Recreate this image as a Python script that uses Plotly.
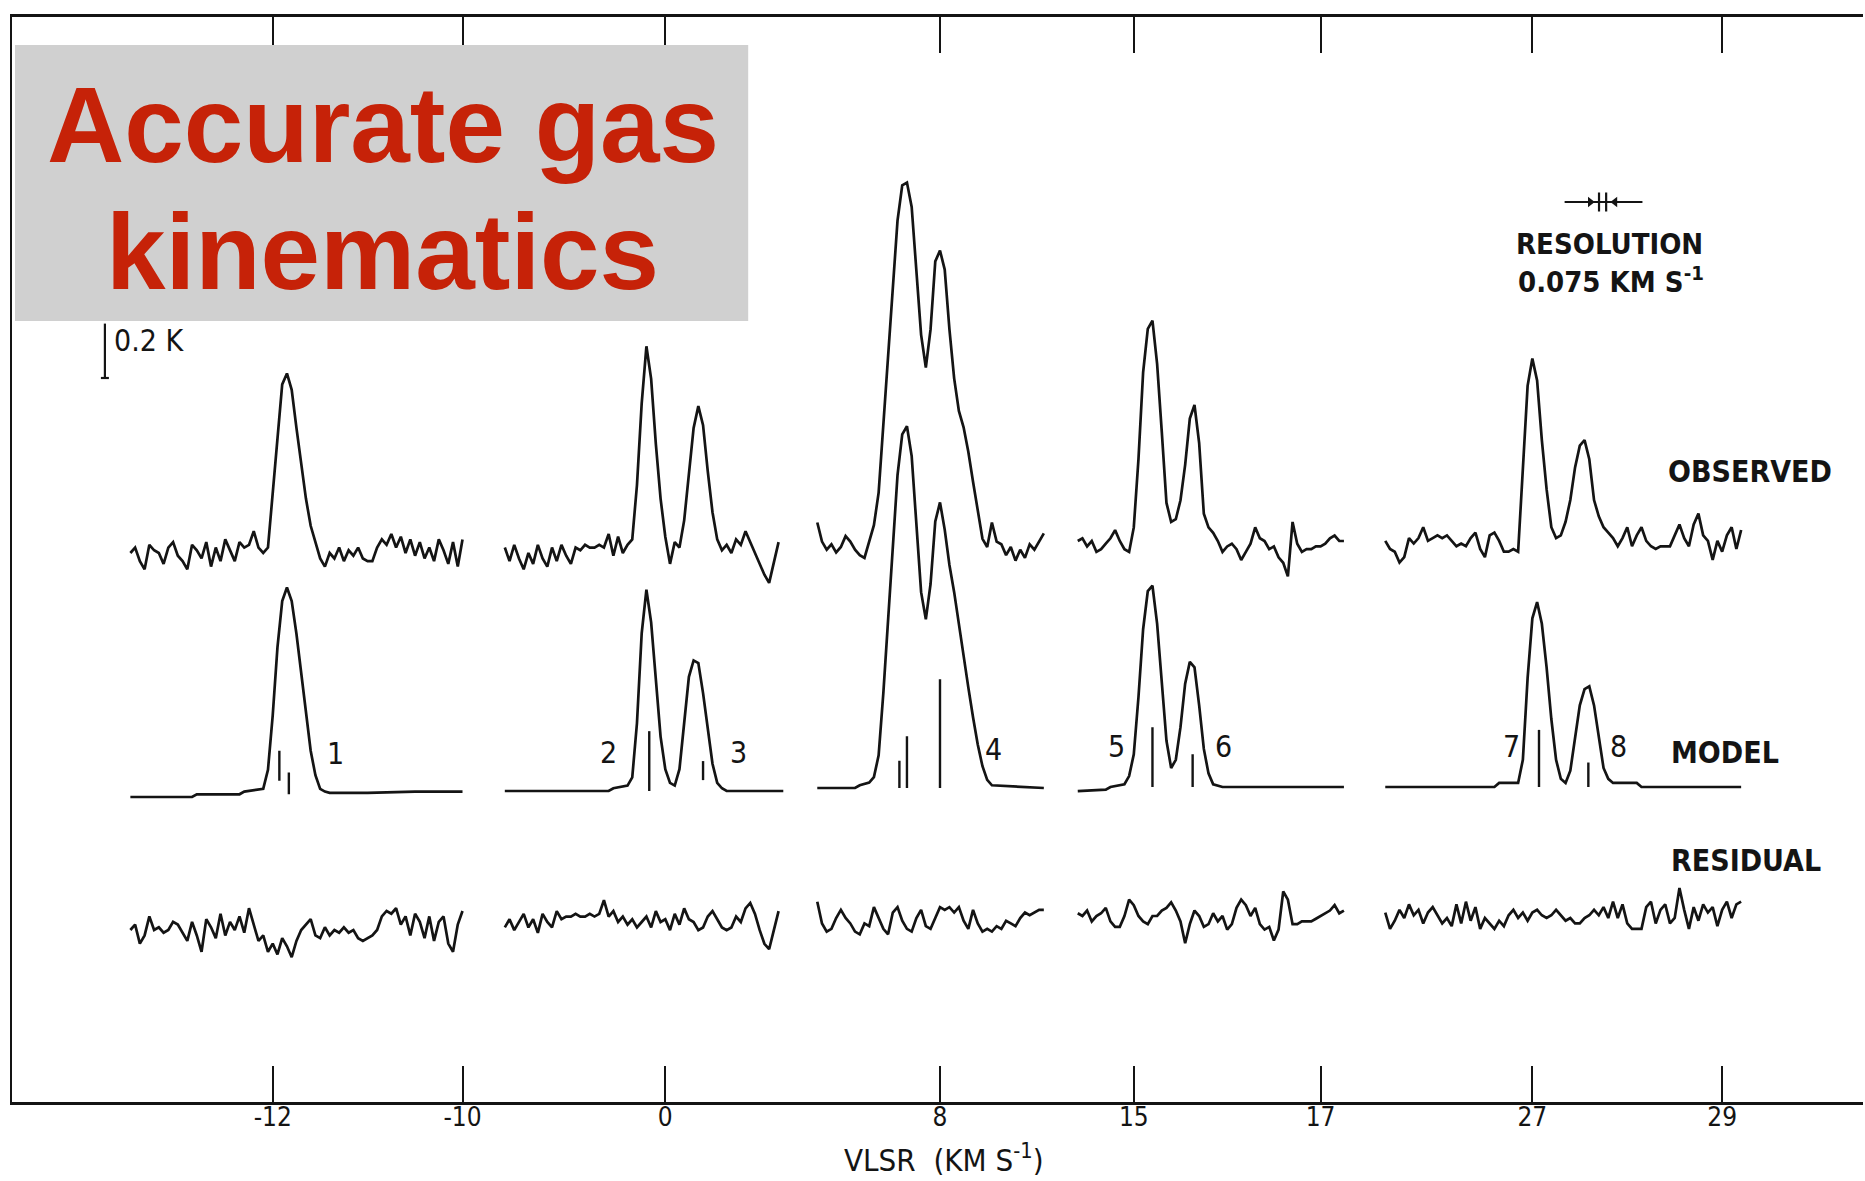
import numpy as np
import plotly.graph_objects as go

# ---------------- data (antenna temperature in K, velocity in km/s) ----------------
CHANNEL = 0.05  # km/s channel spacing of the spectra

# Panel 1 (component 1)
P1_V0 = -13.50
P1_OBS = [0.00, 0.02, -0.03, -0.06, 0.03, 0.01, 0.00, -0.04, 0.02, 0.04,
          -0.01, -0.03, -0.06, 0.03, 0.01, -0.02, 0.04, -0.05, 0.02, -0.03,
          0.05, 0.01, -0.03, 0.04, 0.02, 0.03, 0.08, 0.02, 0.00, 0.02,
          0.22, 0.45, 0.62, 0.66, 0.60, 0.46, 0.32, 0.20, 0.10, 0.04,
          -0.02, -0.05, 0.00, -0.02, 0.02, -0.03, 0.01, -0.01, 0.02, -0.02,
          -0.03, -0.03, 0.02, 0.05, 0.03, 0.07, 0.02, 0.06, 0.00, 0.05,
          -0.01, 0.04, -0.02, 0.02, -0.03, 0.05, 0.01, -0.04, 0.04, -0.05,
          0.05]
P1_RES = [0.00, 0.02, -0.05, -0.02, 0.05, 0.00, 0.01, -0.01, 0.00, 0.03,
          0.02, -0.01, -0.04, 0.03, -0.02, -0.08, 0.04, 0.01, -0.03, 0.06,
          -0.02, 0.03, 0.00, 0.05, -0.01, 0.08, 0.02, -0.04, -0.02, -0.08,
          -0.05, -0.09, -0.03, -0.06, -0.10, -0.04, 0.00, 0.02, 0.04, -0.02,
          -0.03, 0.01, -0.02, 0.00, -0.01, 0.01, -0.01, 0.00, -0.03, -0.04,
          -0.03, -0.02, 0.00, 0.05, 0.07, 0.06, 0.08, 0.02, 0.05, -0.02,
          0.06, 0.03, -0.03, 0.05, -0.04, 0.03, 0.05, -0.05, -0.08, 0.02,
          0.07]
P1_MOD_V = [-13.50, -12.85, -12.80, -12.35, -12.30, -12.10, -12.05, -12.00, -11.95, -11.90,
            -11.85, -11.80, -11.75, -11.70, -11.65, -11.60, -11.55, -11.50, -11.45, -11.40,
            -11.00, -10.50, -10.00]
P1_MOD_T = [0.00, 0.00, 0.01, 0.01, 0.02, 0.03, 0.10, 0.30, 0.55, 0.72,
            0.77, 0.72, 0.60, 0.45, 0.30, 0.17, 0.08, 0.03, 0.02, 0.015,
            0.015, 0.02, 0.02]

# Panel 2 (components 2, 3)
P2_V0 = -1.70
P2_OBS = [0.02, -0.03, 0.03, -0.02, -0.06, 0.00, -0.04, 0.03, -0.02, -0.05,
          0.02, -0.03, 0.03, -0.01, -0.04, 0.02, 0.01, 0.03, 0.02, 0.02,
          0.03, 0.02, 0.07, -0.01, 0.06, 0.00, 0.03, 0.05, 0.25, 0.55,
          0.76, 0.64, 0.40, 0.20, 0.06, -0.04, 0.04, 0.02, 0.12, 0.30,
          0.46, 0.54, 0.47, 0.30, 0.15, 0.05, 0.01, 0.03, 0.00, 0.05,
          0.03, 0.08, 0.04, 0.00, -0.04, -0.08, -0.11, -0.03, 0.04]
P2_RES = [-0.02, 0.01, -0.03, 0.00, 0.03, -0.02, 0.01, -0.04, 0.03, 0.00,
          -0.02, 0.04, 0.01, 0.02, 0.02, 0.03, 0.02, 0.02, 0.03, 0.02,
          0.03, 0.08, 0.02, 0.04, 0.00, 0.02, -0.01, 0.01, -0.02, 0.00,
          0.02, -0.02, 0.04, 0.00, 0.01, -0.03, 0.03, -0.01, 0.05, 0.01,
          0.00, -0.03, -0.02, 0.02, 0.04, 0.01, -0.02, -0.03, -0.02, 0.02,
          0.00, 0.05, 0.07, 0.03, -0.03, -0.08, -0.10, -0.03, 0.04]
P2_MOD_V = [-1.70, -0.60, -0.55, -0.40, -0.35, -0.30, -0.25, -0.20, -0.15, -0.10,
            -0.05, 0.00, 0.05, 0.10, 0.15, 0.20, 0.25, 0.30, 0.35, 0.40,
            0.45, 0.50, 0.55, 0.60, 0.65, 1.25]
P2_MOD_T = [0.00, 0.00, 0.01, 0.02, 0.05, 0.25, 0.58, 0.74, 0.62, 0.40,
            0.20, 0.08, 0.03, 0.02, 0.08, 0.25, 0.42, 0.48, 0.47, 0.36,
            0.22, 0.10, 0.03, 0.01, 0.00, 0.00]

# Panel 3 (component 4)
P3_V0 = 6.70
P3_OBS = [0.09, 0.02, -0.01, 0.01, -0.02, 0.00, 0.04, 0.02, -0.01, -0.03,
          -0.04, 0.02, 0.08, 0.20, 0.45, 0.72, 0.95, 1.20, 1.33, 1.34,
          1.25, 1.00, 0.78, 0.66, 0.80, 1.05, 1.09, 1.02, 0.80, 0.62,
          0.50, 0.44, 0.35, 0.24, 0.14, 0.03, 0.00, 0.09, 0.02, 0.01,
          -0.03, 0.00, -0.05, -0.01, -0.04, 0.01, -0.01, 0.02, 0.05]
P3_RES = [0.06, -0.02, -0.05, -0.04, 0.00, 0.03, 0.00, -0.02, -0.05, -0.06,
          -0.02, -0.03, 0.04, 0.00, -0.04, -0.06, 0.02, 0.04, -0.01, -0.04,
          -0.05, 0.00, 0.03, -0.03, -0.04, 0.00, 0.04, 0.03, 0.04, 0.02,
          0.04, -0.01, -0.04, 0.03, -0.02, -0.05, -0.04, -0.05, -0.03, -0.04,
          -0.01, -0.02, -0.03, 0.00, 0.02, 0.01, 0.02, 0.03, 0.03]
P3_MOD_V = [6.70, 7.10, 7.15, 7.25, 7.30, 7.35, 7.40, 7.45, 7.50, 7.55,
            7.60, 7.65, 7.70, 7.75, 7.80, 7.85, 7.90, 7.95, 8.00, 8.05,
            8.10, 8.15, 8.20, 8.25, 8.30, 8.35, 8.40, 8.45, 8.50, 8.55,
            9.10]
P3_MOD_T = [0.00, 0.00, 0.01, 0.02, 0.04, 0.12, 0.35, 0.62, 0.90, 1.15,
            1.30, 1.33, 1.22, 0.98, 0.72, 0.62, 0.75, 0.98, 1.05, 0.95,
            0.82, 0.72, 0.60, 0.48, 0.37, 0.26, 0.16, 0.08, 0.03, 0.01,
            0.00]

# Panel 4 (components 5, 6)
P4_V0 = 14.40
P4_OBS = [0.00, 0.01, -0.02, 0.00, -0.04, -0.03, -0.01, 0.01, 0.04, 0.00,
          -0.03, -0.04, 0.05, 0.30, 0.62, 0.78, 0.81, 0.65, 0.40, 0.14,
          0.07, 0.08, 0.15, 0.28, 0.45, 0.50, 0.36, 0.10, 0.05, 0.03,
          0.00, -0.04, -0.02, -0.01, -0.03, -0.07, -0.04, -0.01, 0.05, 0.01,
          0.00, -0.03, -0.02, -0.06, -0.08, -0.13, 0.07, -0.01, -0.04, -0.03,
          -0.03, -0.02, -0.02, -0.01, 0.01, 0.02, 0.00, 0.00]
P4_RES = [0.01, 0.00, 0.02, -0.02, 0.00, 0.01, 0.03, -0.02, -0.04, -0.04,
          0.00, 0.06, 0.04, 0.00, -0.02, -0.03, 0.00, 0.00, 0.02, 0.03,
          0.05, 0.02, -0.02, -0.10, -0.03, 0.02, 0.00, -0.04, -0.03, 0.01,
          -0.02, 0.00, -0.05, -0.03, 0.03, 0.06, 0.04, 0.00, 0.03, -0.03,
          -0.05, -0.04, -0.09, -0.05, 0.09, 0.06, -0.03, -0.03, -0.02, -0.02,
          -0.02, -0.01, 0.00, 0.01, 0.02, 0.04, 0.01, 0.02]
P4_MOD_V = [14.40, 14.70, 14.75, 14.90, 14.95, 15.00, 15.05, 15.10, 15.15, 15.20,
            15.25, 15.30, 15.35, 15.40, 15.45, 15.50, 15.55, 15.60, 15.65, 15.70,
            15.75, 15.80, 15.85, 15.95, 17.25]
P4_MOD_T = [-0.015, -0.01, 0.00, 0.01, 0.04, 0.12, 0.33, 0.58, 0.72, 0.74,
            0.60, 0.38, 0.17, 0.07, 0.10, 0.22, 0.38, 0.46, 0.44, 0.30,
            0.14, 0.05, 0.01, 0.00, 0.00]

# Panel 5 (components 7, 8)
P5_V0 = 25.45
P5_OBS = [0.03, 0.00, -0.01, -0.05, -0.03, 0.04, 0.02, 0.04, 0.08, 0.03,
          0.04, 0.05, 0.04, 0.05, 0.03, 0.01, 0.02, 0.01, 0.04, 0.06,
          0.00, -0.03, 0.05, 0.06, 0.03, -0.01, -0.01, 0.00, -0.01, 0.30,
          0.60, 0.70, 0.62, 0.40, 0.22, 0.08, 0.04, 0.05, 0.10, 0.18,
          0.30, 0.38, 0.40, 0.33, 0.18, 0.12, 0.08, 0.06, 0.04, 0.01,
          0.04, 0.08, 0.01, 0.05, 0.08, 0.03, 0.01, 0.00, 0.01, 0.01,
          0.01, 0.05, 0.09, 0.04, 0.01, 0.09, 0.13, 0.05, 0.03, -0.04,
          0.03, -0.01, 0.05, 0.08, 0.00, 0.07]
P5_RES = [0.02, -0.04, -0.01, 0.03, 0.00, 0.05, 0.01, 0.03, -0.02, 0.02,
          0.04, 0.01, -0.02, 0.00, -0.03, 0.05, -0.02, 0.06, -0.01, 0.04,
          -0.04, 0.00, -0.02, -0.04, -0.01, -0.03, 0.01, 0.03, 0.00, 0.02,
          -0.01, 0.02, 0.03, 0.01, 0.00, 0.01, 0.03, 0.01, -0.01, 0.00,
          -0.02, -0.02, 0.00, 0.01, 0.03, 0.01, 0.04, 0.00, 0.06, 0.00,
          0.05, -0.02, -0.04, -0.04, -0.04, 0.04, 0.06, -0.02, 0.03, 0.05,
          -0.02, 0.00, 0.11, 0.03, -0.04, 0.04, -0.01, 0.05, 0.02, 0.04,
          -0.03, 0.03, 0.06, 0.00, 0.05, 0.06]
P5_MOD_V = [25.45, 26.60, 26.65, 26.85, 26.90, 26.95, 27.00, 27.05, 27.10, 27.15,
            27.20, 27.25, 27.30, 27.35, 27.40, 27.45, 27.50, 27.55, 27.60, 27.65,
            27.70, 27.75, 27.80, 27.85, 28.10, 28.15, 29.20]
P5_MOD_T = [0.00, 0.00, 0.015, 0.015, 0.10, 0.40, 0.62, 0.68, 0.60, 0.44,
            0.25, 0.10, 0.03, 0.015, 0.06, 0.18, 0.30, 0.36, 0.37, 0.30,
            0.18, 0.07, 0.03, 0.015, 0.015, 0.00, 0.00]

# hyperfine component sticks under the model (panel, velocity, bottom K, top K)
STICK_PANEL = [1, 1, 2, 2, 3, 3, 3, 4, 4, 5, 5]
STICK_V = [-11.93, -11.83, -0.17, 0.40, 7.57, 7.65, 8.00, 15.20, 15.63, 27.07, 27.59]
STICK_LO = [0.06, 0.01, 0.00, 0.04, 0.00, 0.00, 0.00, 0.00, 0.00, 0.00, 0.00]
STICK_HI = [0.17, 0.09, 0.22, 0.11, 0.10, 0.19, 0.40, 0.22, 0.12, 0.21, 0.09]

# component labels
COMP_LABEL = ["1", "2", "3", "4", "5", "6", "7", "8"]
COMP_PANEL = [1, 2, 2, 3, 4, 4, 5, 5]
COMP_V = [-11.34, -0.60, 0.78, 8.57, 14.81, 15.96, 26.78, 27.91]
COMP_T = [0.16, 0.14, 0.14, 0.14, 0.15, 0.15, 0.15, 0.15]

# velocity axis ticks per axis segment
SEG_TICKS = [[-12, -10], [0], [8], [15, 17], [27, 29]]
SEG_TICKTEXT = [["-12", "-10"], ["0"], ["8"], ["15", "17"], ["27", "29"]]

RESOLUTION = 0.075  # km/s
SCALE_BAR = 0.2     # K

# ---------------- layout geometry (pixels) ----------------
W, H = 1865, 1181
PL, PR, PT, PB = 12, 0, 17, 79
PW = W - PL - PR
PH = H - PT - PB
K_PX = 272.0          # pixels per K
OBS_BASE_PX = 553.0   # observed baseline of panel 1
Y_TOP = (OBS_BASE_PX - PT) / K_PX
Y_BOT = -(PT + PH - OBS_BASE_PX) / K_PX

# segment: (left px, right px, anchor velocity, anchor px, px per km/s)
SEGS = [(12, 480, -12, 273, 95.0),
        (480, 795, 0, 666, 94.5),
        (795, 1056, 8, 941, 94.5),
        (1056, 1362, 15, 1135, 93.5),
        (1362, 1865, 27, 1534, 95.0)]

# row baselines per panel (pixels)
OBS_Y = [553, 553, 547, 541, 549]
MOD_Y = [797, 791, 788, 787, 787]
RES_Y = [930, 922, 918, 916, 918]


def xp(px):
    return (px - PL) / PW


def yp(py):
    return (PT + PH - py) / PH


def kofs(py):
    return (OBS_BASE_PX - py) / K_PX


panels = [
    (P1_V0, P1_OBS, P1_RES, P1_MOD_V, P1_MOD_T),
    (P2_V0, P2_OBS, P2_RES, P2_MOD_V, P2_MOD_T),
    (P3_V0, P3_OBS, P3_RES, P3_MOD_V, P3_MOD_T),
    (P4_V0, P4_OBS, P4_RES, P4_MOD_V, P4_MOD_T),
    (P5_V0, P5_OBS, P5_RES, P5_MOD_V, P5_MOD_T),
]

INK = "#141414"
LW = 2.7
FONT = "DejaVu Sans Condensed, Liberation Sans Narrow, Arial"

fig = go.Figure()


def text(xpx, ypx, s, size, bold=False, xanchor="center", family=FONT, color=INK):
    fig.add_annotation(x=xp(xpx), y=yp(ypx), xref="paper", yref="paper",
                       xanchor=xanchor, yanchor="middle",
                       text=f"<b>{s}</b>" if bold else s, showarrow=False,
                       font=dict(family=family, size=size, color=color))


for i, (v0, obs, res, mv, mt) in enumerate(panels):
    xa = "x" if i == 0 else f"x{i+1}"
    v = v0 + CHANNEL * np.arange(len(obs))
    vr = v0 + CHANNEL * np.arange(len(res))
    for xs, ys, base in ((v, obs, OBS_Y[i]), (mv, mt, MOD_Y[i]), (vr, res, RES_Y[i])):
        fig.add_trace(go.Scatter(x=xs, y=np.array(ys) + kofs(base), mode="lines",
                                 line=dict(color=INK, width=LW), xaxis=xa, yaxis="y",
                                 showlegend=False, hoverinfo="skip"))
    # sticks
    sx, sy = [], []
    for p, sv, lo, hi in zip(STICK_PANEL, STICK_V, STICK_LO, STICK_HI):
        if p == i + 1:
            sx += [sv, sv, None]
            sy += [lo + kofs(MOD_Y[i]), hi + kofs(MOD_Y[i]), None]
    if sx:
        fig.add_trace(go.Scatter(x=sx, y=sy, mode="lines",
                                 line=dict(color=INK, width=2.4), xaxis=xa, yaxis="y",
                                 showlegend=False, hoverinfo="skip"))
    for lab, p, cv, ct in zip(COMP_LABEL, COMP_PANEL, COMP_V, COMP_T):
        if p == i + 1:
            fig.add_annotation(x=cv, y=ct + kofs(MOD_Y[i]), xref=xa, yref="y",
                               xanchor="center", yanchor="middle",
                               text=lab, showarrow=False,
                               font=dict(family=FONT, size=30, color=INK))

TICKFONT = dict(family=FONT, size=26, color=INK)
layout_axes = {}
for i, (l, r, av, apx, ppu) in enumerate(SEGS):
    name = "xaxis" if i == 0 else f"xaxis{i+1}"
    rng = [av - (apx - l) / ppu, av + (r - apx) / ppu]
    layout_axes[name] = dict(
        domain=[xp(l), xp(r)], range=rng, anchor="y",
        showgrid=False, zeroline=False, showline=True, linecolor=INK, linewidth=2.5,
        mirror="ticks", ticks="inside", ticklen=36, tickwidth=2.2, tickcolor=INK,
        tickvals=SEG_TICKS[i], ticktext=SEG_TICKTEXT[i], tickfont=TICKFONT,
        ticklabelstandoff=-10, fixedrange=True,
    )

fig.update_layout(
    width=W, height=H, autosize=False,
    margin=dict(l=PL, r=PR, t=PT, b=PB, pad=0),
    paper_bgcolor="white", plot_bgcolor="white",
    yaxis=dict(domain=[0, 1], range=[Y_BOT, Y_TOP], anchor="x", showgrid=False,
               zeroline=False, showline=True, linecolor=INK, linewidth=2,
               showticklabels=False, ticks="", fixedrange=True),
    **layout_axes,
)

# 0.2 K scale bar
bar_bottom = kofs(378)
fig.add_shape(type="line", xref="paper", yref="y", x0=xp(105), x1=xp(105),
              y0=bar_bottom, y1=bar_bottom + SCALE_BAR, line=dict(color=INK, width=2.2))
fig.add_shape(type="line", xref="paper", yref="y", x0=xp(101), x1=xp(109),
              y0=bar_bottom, y1=bar_bottom, line=dict(color=INK, width=2.2))
text(112, 340, "0.2 K", 30, xanchor="left")

# resolution marker (drawn in the velocity units of the last segment)
res_c = 27.74
res_y = kofs(202)
fig.add_shape(type="line", xref="x5", yref="y", x0=res_c - 0.40, x1=res_c + 0.42,
              y0=res_y, y1=res_y, line=dict(color=INK, width=2.2))
for xv in (res_c - RESOLUTION / 2, res_c + RESOLUTION / 2):
    fig.add_shape(type="line", xref="x5", yref="y", x0=xv, x1=xv,
                  y0=res_y - 0.035, y1=res_y + 0.035, line=dict(color=INK, width=2.2))
fig.add_trace(go.Scatter(x=[res_c - 0.13, res_c + 0.13], y=[res_y, res_y], mode="markers",
                         marker=dict(symbol=["triangle-right", "triangle-left"], size=9, color=INK),
                         xaxis="x5", yaxis="y", showlegend=False, hoverinfo="skip"))

text(1611, 244, "RESOLUTION", 29, bold=True)
text(1613, 280, "0.075 KM S<sup>-1</sup>", 29, bold=True)
text(1752, 472, "OBSERVED", 30, bold=True)
text(1727, 752, "MODEL", 30, bold=True)
text(1748, 860, "RESIDUAL", 30, bold=True)
text(945, 1158, "VLSR  (KM S<sup>-1</sup>)", 31)

# overlay box with headline
fig.add_shape(type="rect", xref="paper", yref="paper", x0=xp(15), x1=xp(749),
              y0=yp(321), y1=yp(45), fillcolor="#D0D0D0", line=dict(width=0), layer="above")
TITLE_FONT = "Liberation Sans, Arial, Helvetica"
text(383, 125, "Accurate gas", 107, bold=True, family=TITLE_FONT, color="#C62208")
text(383, 252, "kinematics", 107, bold=True, family=TITLE_FONT, color="#C62208")

fig.write_html("out.html")
